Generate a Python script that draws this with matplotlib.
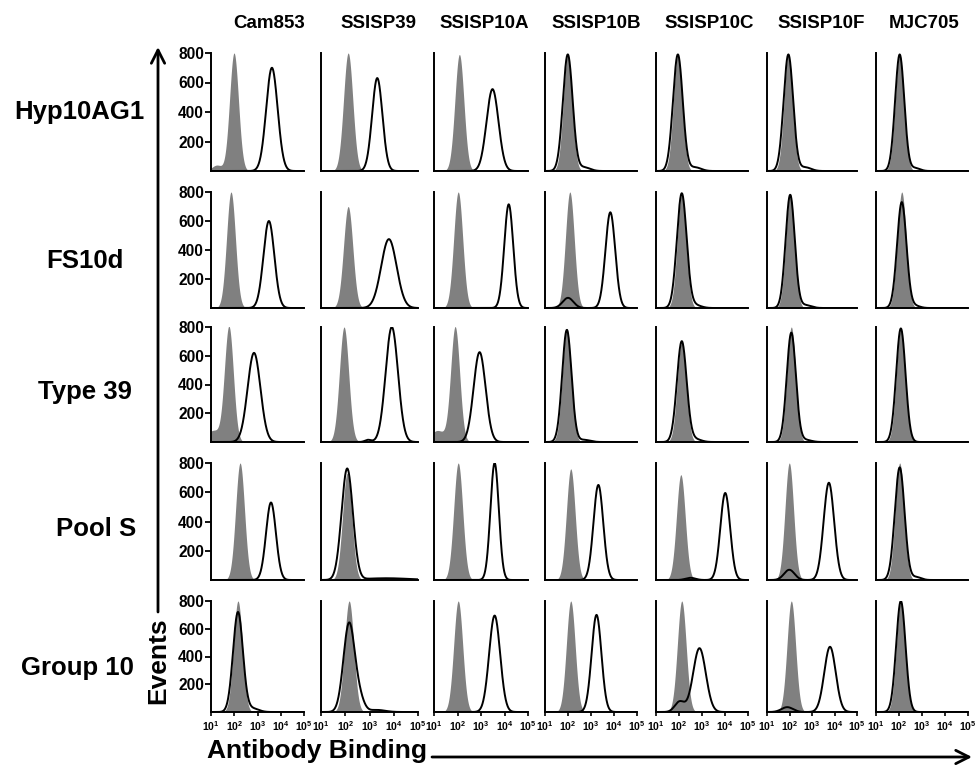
import numpy as np
import matplotlib.pyplot as plt
from matplotlib import font_manager
from matplotlib.patches import FancyArrowPatch

installed = {f.name for f in font_manager.fontManager.ttflist}
narrow_ok = 'Liberation Sans Narrow' in installed
tick_family = 'Liberation Sans Narrow' if narrow_ok else 'Liberation Sans'

plt.rcParams['font.family'] = ['Liberation Sans', 'DejaVu Sans']
plt.rcParams['mathtext.fontset'] = 'custom'
plt.rcParams['mathtext.rm'] = tick_family + ':bold'
plt.rcParams['mathtext.bf'] = tick_family + ':bold'
plt.rcParams['mathtext.it'] = tick_family + ':bold'

# panel labels
rows = ['Hyp10AG1', 'FS10d', 'Type 39', 'Pool S', 'Group 10']
columns = ['Cam853', 'SSISP39', 'SSISP10A', 'SSISP10B', 'SSISP10C', 'SSISP10F', 'MJC705']
y_ticks = [200, 400, 600, 800]
x_tick_exp = [1, 2, 3, 4, 5]

# gray (control) histogram peak: log10 position, events
ctrl_log = [[1.99, 2.12, 2.08, 1.99, 1.95, 1.95, 2.03],
            [1.86, 2.12, 2.03, 2.08, 2.12, 2.03, 2.12],
            [1.77, 1.95, 1.90, 1.95, 2.12, 2.08, 2.08],
            [2.25, 2.08, 2.03, 2.12, 2.08, 1.99, 2.03],
            [2.16, 2.16, 2.03, 2.12, 2.12, 2.08, 2.08]]
ctrl_events = [[800, 800, 790, 790, 790, 790, 790],
               [800, 700, 800, 800, 790, 790, 800],
               [800, 800, 800, 790, 700, 800, 790],
               [800, 730, 800, 760, 720, 800, 800],
               [800, 800, 800, 800, 800, 800, 800]]
ctrl_fwhm = 0.45
# low left shoulders of the gray histograms: (row, col, log10, events, fwhm)
ctrl_shoulders = [(0, 0, 1.25, 40, 0.5), (2, 0, 1.1, 80, 0.7), (2, 2, 1.15, 80, 0.7)]

# open (serum) histogram main peak: log10 position, events, fwhm (decades)
serum_log = [[3.62, 3.32, 3.49, 1.99, 1.95, 1.95, 2.03],
             [3.49, 3.80, 4.18, 3.84, 2.12, 2.03, 2.12],
             [2.85, 3.92, 2.94, 1.95, 2.12, 2.08, 2.08],
             [3.58, 2.08, 3.58, 3.32, 4.01, 3.75, 2.03],
             [2.16, 2.16, 3.58, 3.24, 2.89, 3.80, 2.08]]
serum_events = [[700, 630, 555, 790, 790, 790, 790],
                [600, 475, 715, 660, 790, 780, 730],
                [620, 800, 625, 780, 700, 760, 790],
                [530, 760, 800, 650, 595, 665, 770],
                [720, 640, 695, 700, 460, 470, 800]]
serum_fwhm = [[0.58, 0.5, 0.6, 0.5, 0.5, 0.5, 0.47],
              [0.55, 0.75, 0.45, 0.5, 0.5, 0.48, 0.48],
              [0.65, 0.6, 0.6, 0.48, 0.5, 0.48, 0.48],
              [0.5, 0.55, 0.42, 0.5, 0.5, 0.55, 0.5],
              [0.5, 0.55, 0.55, 0.5, 0.65, 0.6, 0.48]]
# minor bumps / tails in the open histograms: (row, col, log10, events, fwhm)
serum_minor = [(0, 3, 2.7, 25, 0.6), (0, 4, 2.7, 25, 0.6), (0, 5, 2.7, 25, 0.6),
               (0, 6, 2.7, 20, 0.5), (1, 3, 2.0, 70, 0.55), (1, 4, 2.7, 20, 0.6),
               (1, 5, 2.7, 20, 0.6), (1, 6, 2.7, 15, 0.5), (2, 1, 2.94, 15, 0.3),
               (2, 3, 2.7, 15, 0.6), (2, 4, 2.7, 20, 0.6), (2, 5, 2.7, 15, 0.6),
               (3, 1, 3.7, 12, 2.2), (3, 4, 2.5, 15, 0.5), (3, 5, 1.99, 70, 0.55),
               (3, 6, 2.75, 20, 0.5), (4, 0, 2.8, 25, 0.6), (4, 1, 2.6, 80, 0.45),
               (4, 1, 3.3, 15, 0.8), (4, 4, 2.03, 75, 0.5), (4, 5, 1.9, 35, 0.6)]

# layout in pixels
W, H = 976, 766
col_left = [211, 321, 434, 545, 656, 767, 876]
col_right = [304, 418, 528, 637, 748, 857, 968]
row_top = [53, 192, 327, 463, 601]
row_bottom = [171, 308, 442, 580, 712]
title_x = [269, 378, 484, 596, 709, 821, 924]
row_label_xy = [(79, 112), (85, 261), (85, 392), (96, 529), (77, 668)]


def peak(grid, center, events, fwhm):
    sigma = fwhm / 2.3548
    return events * np.exp(-0.5 * ((grid - center) / sigma) ** 2)


fig = plt.figure(figsize=(W / 100, H / 100), dpi=100)
grid = np.linspace(1, 5, 600)
x = 10 ** grid

for r in range(len(rows)):
    for c in range(len(columns)):
        ax = fig.add_axes([col_left[c] / W, 1 - row_bottom[r] / H,
                           (col_right[c] - col_left[c]) / W,
                           (row_bottom[r] - row_top[r]) / H])
        ctrl = peak(grid, ctrl_log[r][c], ctrl_events[r][c], ctrl_fwhm)
        for (rr, cc, pos, ev, fw) in ctrl_shoulders:
            if rr == r and cc == c:
                ctrl = ctrl + peak(grid, pos, ev, fw)
        serum = peak(grid, serum_log[r][c], serum_events[r][c], serum_fwhm[r][c])
        for (rr, cc, pos, ev, fw) in serum_minor:
            if rr == r and cc == c:
                serum = serum + peak(grid, pos, ev, fw)
        ax.fill_between(x, 0, ctrl, color='#808080', lw=0)
        ax.plot(x, serum, color='black', lw=1.4)
        ax.set_xscale('log')
        ax.set_xlim(10, 1e5)
        ax.set_ylim(0, 800)
        ax.patch.set_alpha(0)
        for s in ['top', 'right']:
            ax.spines[s].set_visible(False)
        for s in ['left', 'bottom']:
            ax.spines[s].set_linewidth(1.4)
        ax.minorticks_off()
        if c == 0:
            ax.set_yticks(y_ticks)
            ax.set_yticklabels([str(v) for v in y_ticks], family=tick_family,
                               weight='bold', fontsize=12.5 if narrow_ok else 11.2)
            ax.tick_params(axis='y', length=4, width=1.3, pad=1)
        else:
            ax.set_yticks([])
        if r == len(rows) - 1:
            ax.set_xticks([10 ** e for e in x_tick_exp])
            ax.set_xticklabels([r'$10^{%d}$' % e for e in x_tick_exp],
                               fontsize=8 if narrow_ok else 7.5)
            ax.tick_params(axis='x', length=3, width=1.2, pad=2)
        else:
            ax.set_xticks([])

# column titles
for c, name in enumerate(columns):
    fig.text(title_x[c] / W, 1 - 24 / H, name, ha='center', va='center',
             fontsize=13.5, weight='bold')

# row labels
for r, name in enumerate(rows):
    px, py = row_label_xy[r]
    fig.text(px / W, 1 - py / H, name, ha='center', va='center',
             fontsize=18.5, weight='bold')

# axis labels with arrows
fig.text(158 / W, 1 - 661 / H, 'Events', rotation=90, ha='center', va='center',
         fontsize=19, weight='bold')
fig.text(207 / W, 1 - 758 / H, 'Antibody Binding', ha='left', va='baseline',
         fontsize=19, weight='bold')
fig.add_artist(FancyArrowPatch((158 / W, 1 - 612 / H), (158 / W, 1 - 47 / H),
                               transform=fig.transFigure, color='black', lw=2,
                               arrowstyle='->,head_length=0.95,head_width=0.48',
                               mutation_scale=10, shrinkA=0, shrinkB=0))
fig.add_artist(FancyArrowPatch((432 / W, 1 - 757 / H), (972 / W, 1 - 757 / H),
                               transform=fig.transFigure, color='black', lw=2,
                               arrowstyle='->,head_length=0.95,head_width=0.48',
                               mutation_scale=10, shrinkA=0, shrinkB=0))

fig.savefig('out.png', dpi=100)
